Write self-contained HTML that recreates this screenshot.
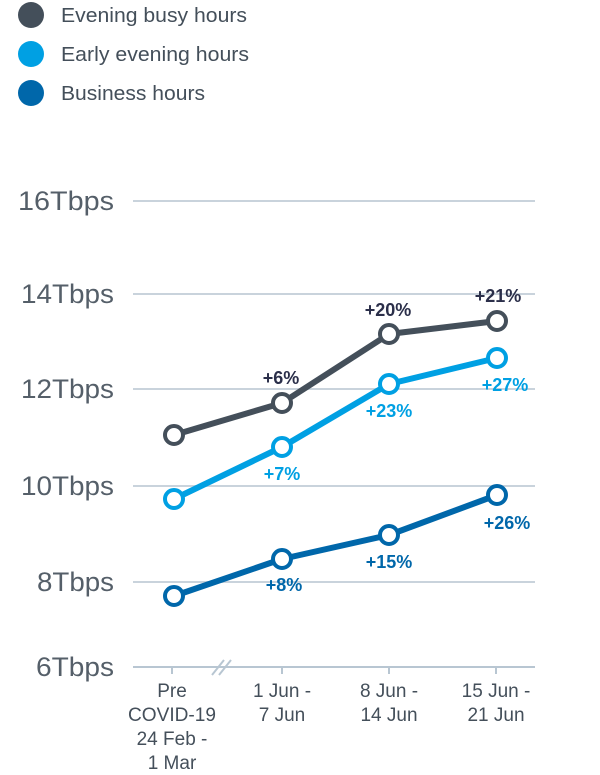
<!DOCTYPE html>
<html><head><style>
body{margin:0;background:#fff;width:600px;height:770px;overflow:hidden;font-family:"Liberation Sans",sans-serif;}
</style></head><body>
<svg width="600" height="770" xmlns="http://www.w3.org/2000/svg" font-family="Liberation Sans, sans-serif">
<g font-size="20" fill="#444f5a">
<circle cx="31" cy="15" r="13" fill="#444f5a"/><text x="61" y="22" textLength="186" lengthAdjust="spacingAndGlyphs">Evening busy hours</text>
<circle cx="31" cy="54" r="13" fill="#00a0e3"/><text x="61" y="61" textLength="188" lengthAdjust="spacingAndGlyphs">Early evening hours</text>
<circle cx="31" cy="93" r="13" fill="#0067aa"/><text x="61" y="100" textLength="144" lengthAdjust="spacingAndGlyphs">Business hours</text>
</g>
<g stroke="#c9d3dc" stroke-width="2">
<line x1="133" y1="201" x2="535" y2="201"/>
<line x1="133" y1="294" x2="535" y2="294"/>
<line x1="133" y1="389" x2="535" y2="389"/>
<line x1="133" y1="486" x2="535" y2="486"/>
<line x1="133" y1="582" x2="535" y2="582"/>
<line x1="133" y1="667" x2="535" y2="667" stroke="#b8c6d2"/>
<line x1="172" y1="667" x2="172" y2="674" stroke="#b8c6d2"/>
<line x1="282" y1="667" x2="282" y2="674" stroke="#b8c6d2"/>
<line x1="389" y1="667" x2="389" y2="674" stroke="#b8c6d2"/>
<line x1="496" y1="667" x2="496" y2="674" stroke="#b8c6d2"/>
<line x1="212" y1="675" x2="224" y2="660" stroke="#b8c6d2"/>
<line x1="219" y1="675" x2="231" y2="660" stroke="#b8c6d2"/>
</g>
<g font-size="27" fill="#555f69" text-anchor="end">
<text x="114" y="210" textLength="96" lengthAdjust="spacingAndGlyphs">16Tbps</text>
<text x="114" y="303" textLength="93" lengthAdjust="spacingAndGlyphs">14Tbps</text>
<text x="114" y="398" textLength="93" lengthAdjust="spacingAndGlyphs">12Tbps</text>
<text x="114" y="495" textLength="93" lengthAdjust="spacingAndGlyphs">10Tbps</text>
<text x="114" y="591" textLength="77" lengthAdjust="spacingAndGlyphs">8Tbps</text>
<text x="114" y="676" textLength="78" lengthAdjust="spacingAndGlyphs">6Tbps</text>
</g>
<g font-size="19" fill="#444f5a" text-anchor="middle">
<text x="172" y="697">Pre</text><text x="172" y="721" textLength="88" lengthAdjust="spacingAndGlyphs">COVID-19</text><text x="172" y="745">24 Feb -</text><text x="172" y="769">1 Mar</text>
<text x="282" y="697">1 Jun -</text><text x="282" y="721">7 Jun</text>
<text x="389" y="697">8 Jun -</text><text x="389" y="721">14 Jun</text>
<text x="496" y="697">15 Jun -</text><text x="496" y="721">21 Jun</text>
</g>
<g fill="none" stroke-width="6" stroke-linejoin="round">
<polyline points="174,435 282,403 389,334 497,321" stroke="#444f5a"/>
<polyline points="174,499 282,447 389,384 497,358" stroke="#00a0e3"/>
<polyline points="174,596 282,559 389,535 497,495" stroke="#0067aa"/>
</g>
<g fill="#fff" stroke-width="4">
<g stroke="#444f5a"><circle cx="174" cy="435" r="9"/><circle cx="282" cy="403" r="9"/><circle cx="389" cy="334" r="9"/><circle cx="497" cy="321" r="9"/></g>
<g stroke="#00a0e3"><circle cx="174" cy="499" r="9"/><circle cx="282" cy="447" r="9"/><circle cx="389" cy="384" r="9"/><circle cx="497" cy="358" r="9"/></g>
<g stroke="#0067aa"><circle cx="174" cy="596" r="9"/><circle cx="282" cy="559" r="9"/><circle cx="389" cy="535" r="9"/><circle cx="497" cy="495" r="9"/></g>
</g>
<g font-size="18" font-weight="bold" text-anchor="middle">
<g fill="#2b2f4a"><text x="281" y="384">+6%</text><text x="388" y="316">+20%</text><text x="498" y="302">+21%</text></g>
<g fill="#00a0e3"><text x="282" y="480">+7%</text><text x="389" y="417">+23%</text><text x="505" y="391">+27%</text></g>
<g fill="#0067aa"><text x="284" y="591">+8%</text><text x="389" y="568">+15%</text><text x="507" y="529">+26%</text></g>
</g>
</svg>
</body></html>
